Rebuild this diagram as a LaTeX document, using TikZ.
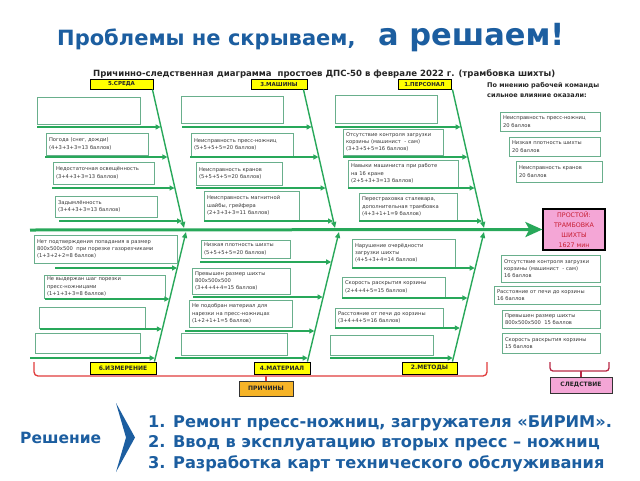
\documentclass[tikz,border=0pt]{standalone}
\usepackage{fontspec}
\setmainfont{DejaVu Sans}
\usetikzlibrary{arrows.meta}
\definecolor{tblue}{RGB}{28,94,160}
\definecolor{grn}{RGB}{40,168,90}
\definecolor{boxc}{RGB}{105,175,140}
\definecolor{txt}{RGB}{55,55,55}
\definecolor{ylw}{RGB}{255,255,0}
\definecolor{pnk}{RGB}{244,166,214}
\definecolor{org}{RGB}{246,180,40}
\definecolor{bred}{RGB}{225,60,60}
\definecolor{dred}{RGB}{185,40,70}
\definecolor{ptxt}{RGB}{200,30,50}
\begin{document}
\begin{tikzpicture}[x=1pt,y=-1pt,
 cb/.style={draw=boxc,line width=0.8pt,fill=white,inner xsep=3pt,inner ysep=0pt,align=left,text=txt,font=\fontsize{5.2}{7.3}\selectfont,anchor=center},
 ylab/.style={draw=black,line width=0.9pt,fill=ylw,inner sep=0pt,font=\bfseries\fontsize{5.5}{6}\selectfont,text=black!85},
 arr/.style={draw=grn,line width=1.4pt,-{Triangle[length=5pt,width=5pt]}},
 bone/.style={draw=grn,line width=1.4pt,-{Triangle[length=6pt,width=5pt]}},
 ttl/.style={anchor=base west,inner sep=0pt,text=tblue,font=\bfseries\fontsize{#1}{#1}\selectfont},
]
\useasboundingbox[fill=white] (0,0) rectangle (640,480);

% titles
\node[ttl=21] (t1) at (57,45) {Проблемы не скрываем,};
\node[ttl=30.5] (t2) at (378,45) {а решаем!};
\node[anchor=base west,inner sep=0pt,text=black!85,font=\bfseries\fontsize{8.55}{9}\selectfont] (sub) at (93,76) {Причинно-следственная диаграмма~ простоев ДПС-50 в феврале 2022 г. (трамбовка шихты)};

% category labels
\node[ylab,minimum width=63pt,minimum height=10pt] (y5) at (121.5,84) {5.СРЕДА};
\node[ylab,minimum width=56pt,minimum height=10pt] (y3) at (279,84) {3.МАШИНЫ};
\node[ylab,minimum width=53pt,minimum height=10pt] (y1) at (424.5,84) {1.ПЕРСОНАЛ};
\node[ylab,minimum width=66pt,minimum height=12pt,font=\bfseries\fontsize{6}{6}\selectfont] (y6) at (123,368) {6.ИЗМЕРЕНИЕ};
\node[ylab,minimum width=56pt,minimum height=12pt,font=\bfseries\fontsize{6}{6}\selectfont] (y4) at (282,368) {4.МАТЕРИАЛ};
\node[ylab,minimum width=55pt,minimum height=12pt,font=\bfseries\fontsize{6}{6}\selectfont] (y2) at (429.5,368) {2.МЕТОДЫ};

% effect
\node[draw=black,line width=1.2pt,fill=pnk,minimum width=62pt,minimum height=41pt,inner sep=0pt,align=center,text=ptxt,font=\fontsize{6.3}{10}\selectfont] (prost) at (574,229.5) {ПРОСТОЙ:\\ТРАМБОВКА\\ШИХТЫ\\1627 мин};

% spine
\coordinate (sp0) at (30,230);
\draw[draw=grn,line width=3pt,-{Stealth[length=17pt,width=15pt,inset=4pt]}] (sp0) -- (prost.west);

% bones
\coordinate (j5) at (184,228); \coordinate (j3) at (335,228); \coordinate (j1) at (484,228);
\coordinate (j6) at (186,232); \coordinate (j4) at (339,232); \coordinate (j2) at (484,232);
\draw[bone] ([xshift=-1pt]y5.south east) -- (j5);
\draw[bone] ([xshift=-4pt]y3.south east) -- (j3);
\draw[bone] ([xshift=1pt]y1.south east) -- (j1);
\draw[bone] ([xshift=-2pt]y6.north east) -- (j6);
\draw[bone] ([xshift=-3pt]y4.north east) -- (j4);
\draw[bone] ([xshift=-5pt]y2.north east) -- (j2);

% cause boxes: 5
\node[cb,text width=97pt,minimum height=27pt] (b5a) at (88.5,110.5) {};
\node[cb,text width=96pt,minimum height=22pt] (b5b) at (97,144) {Погода (снег, дожди)\\(4+3+3+3=13 баллов)};
\node[cb,text width=95pt,minimum height=22pt] (b5c) at (103.5,173) {Недостаточная освещённость\\(3+4+3+3=13 баллов)};
\node[cb,text width=96pt,minimum height=21pt] (b5d) at (106,206.5) {Задымлённость\\(3+4+3+3=13 баллов)};
% 3
\node[cb,text width=96pt,minimum height=27pt] (b3a) at (232,109.5) {};
\node[cb,text width=96pt,minimum height=23pt] (b3b) at (242,144.5) {Неисправность пресс-ножниц\\(5+5+5+5=20 баллов)};
\node[cb,text width=80pt,minimum height=23pt] (b3c) at (239,173.5) {Неисправность кранов\\(5+5+5+5=20 баллов)};
\node[cb,text width=89pt,minimum height=29pt] (b3d) at (251.5,205.5) {Неисправность магнитной\\шайбы, грейфера\\(2+3+3+3=11 баллов)};
% 1
\node[cb,text width=96pt,minimum height=28pt] (b1a) at (386,109) {};
\node[cb,text width=94pt,minimum height=26pt] (b1b) at (393,142) {Отсутствие контроля загрузки\\корзины (машинист~~-~сам)\\(3+3+5+5=16 баллов)};
\node[cb,text width=104pt,minimum height=27pt] (b1c) at (403,173.5) {Навыки машиниста при работе\\на 16 кране\\(2+5+3+3=13 баллов)};
\node[cb,text width=92pt,minimum height=27pt] (b1d) at (408,206.5) {Перестраховка сталевара,\\дополнительная трамбовка\\(4+3+1+1=9 баллов)};
% 6
\node[cb,text width=137pt,minimum height=28pt] (b6a) at (105.5,249) {Нет подтверждения попадания в размер\\800х500х500~ при порезке газорезчиками\\(1+3+2+2=8 баллов)};
\node[cb,text width=115pt,minimum height=23pt] (b6b) at (104.5,286.5) {Не выдержан шаг порезки\\пресс-ножницами\\(1+1+3+3=8 баллов)};
\node[cb,text width=100pt,minimum height=21pt] (b6c) at (92,317.5) {};
\node[cb,text width=99pt,minimum height=20pt] (b6d) at (87.5,343) {};
% 4
\node[cb,text width=83pt,minimum height=18pt] (b4a) at (245.5,249) {Низкая плотность шихты\\(5+5+5+5=20 баллов)};
\node[cb,text width=92pt,minimum height=26pt] (b4b) at (241,281) {Превышен размер шихты\\800х500х500\\(3+4+4+4=15 баллов)};
\node[cb,text width=97pt,minimum height=27pt] (b4c) at (240.5,313.5) {Не подобран материал для\\нарезки на пресс-ножницах\\(1+2+1+1=5 баллов)};
\node[cb,text width=100pt,minimum height=22pt] (b4d) at (234,344) {};
% 2
\node[cb,text width=97pt,minimum height=28pt] (b2a) at (403.5,253) {Нарушение очерёдности\\загрузки шихты\\(4+5+3+4=14 баллов)};
\node[cb,text width=97pt,minimum height=20pt] (b2b) at (393.5,287) {Скорость раскрытия корзины\\(2+4+4+5=15 баллов)};
\node[cb,text width=102pt,minimum height=19pt] (b2c) at (389,317.5) {Расстояние от печи до корзины\\(3+4+4+5=16 баллов)};
\node[cb,text width=97pt,minimum height=20pt] (b2d) at (381.5,345) {};

% horizontal arrows
\foreach \n/\xs/\xe/\yy in {
 5a/37/160.6/127, 5b/45/167.4/157, 5c/52/174.5/188, 5d/59/182/221,
 3a/182/311.6/127, 3b/190/318.4/157, 3c/196/325.5/188, 3d/204/333/221,
 1a/335/460.6/127, 1b/343/467.4/157, 1c/348/474.5/188, 1d/359/482/221,
 6a/55/177/268, 6b/45/169.4/299, 6c/40/161.8/329, 6d/30/154.7/358,
 4a/200/331.2/262, 4b/193/322.6/297, 4c/185/314.3/331, 4d/175/307.7/358,
 2a/352/474.7/268, 2b/342/467.4/298, 2c/335/459.8/328, 2d/330/452.7/358}{
 \coordinate (s\n) at (\xs,\yy);
 \coordinate (e\n) at (\xe,\yy);
 \draw[arr] (s\n) -- (e\n);
}

% right column
\node[anchor=base west,inner sep=0pt,align=left,text=black!85,font=\bfseries\fontsize{6.5}{10}\selectfont] (op) at (487,97) {По мнению рабочей команды\\сильное влияние оказали:};
\node[cb,text width=94pt,minimum height=19pt] (r1) at (550,121.5) {Неисправность пресс-ножниц\\20 баллов};
\node[cb,text width=85pt,minimum height=19pt] (r2) at (554.5,146.5) {Низкая плотность шихты\\20 баллов};
\node[cb,text width=80pt,minimum height=21pt] (r3) at (559,171.5) {Неисправность кранов\\20 баллов};
\node[cb,text width=93pt,minimum height=27pt] (r4) at (550.5,268.5) {Отсутствие контроля загрузки\\корзины (машинист~~-~сам)\\16 баллов};
\node[cb,text width=100pt,minimum height=18pt] (r5) at (547,295) {Расстояние от печи до корзины\\16 баллов};
\node[cb,text width=92pt,minimum height=18pt] (r6) at (551,319) {Превышен размер шихты\\800х500х500~ 15 баллов};
\node[cb,text width=92pt,minimum height=20pt] (r7) at (551,343) {Скорость раскрытия корзины\\15 баллов};

% braces and labels
\node[draw=black!80,line width=0.9pt,fill=org,minimum width=54pt,minimum height=15pt,inner sep=0pt,text=black!85,font=\bfseries\fontsize{6}{6}\selectfont] (prich) at (266,388.5) {ПРИЧИНЫ};
\node[draw=black!80,line width=0.9pt,fill=pnk,minimum width=62pt,minimum height=16pt,inner sep=0pt,text=black!85,font=\bfseries\fontsize{6}{6}\selectfont] (sled) at (581,385) {СЛЕДСТВИЕ};
\coordinate (bl1) at (34,362); \coordinate (bl2) at (487,362); \coordinate (blm) at (266,376);
\draw[bred,line width=1.3pt,rounded corners=4pt] (bl1) -- (34,376) -- (487,376) -- (bl2);
\draw[bred,line width=1.3pt] (blm) -- (prich.north);
\coordinate (br1) at (550,362); \coordinate (br2) at (609,362); \coordinate (brm) at (581,371);
\draw[dred,line width=1.3pt,rounded corners=3pt] (br1) -- (550,371) -- (609,371) -- (br2);
\draw[dred,line width=1.3pt] (brm) -- (sled.north);

% solution
\node[ttl=15.5] (resh) at (20,443) {Решение};
\fill[tblue] (116,403) -- (135,437.5) -- (116,472) -- (126,437.5) -- cycle;
\node[ttl=16.2] (l1) at (148,427) {1. Ремонт пресс-ножниц, загружателя «БИРИМ».};
\node[ttl=16.2] (l2) at (148,447.5) {2. Ввод в эксплуатацию вторых пресс – ножниц};
\node[ttl=16.2] (l3) at (148,468) {3. Разработка карт технического обслуживания};
\end{tikzpicture}
\end{document}
